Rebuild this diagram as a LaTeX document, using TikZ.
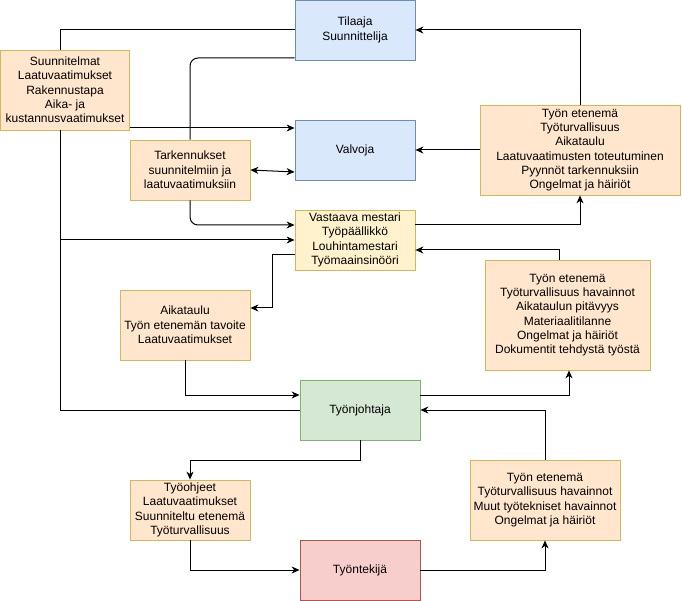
\documentclass[tikz,border=0pt]{standalone}
\usepackage{fontspec}
\setmainfont{Liberation Sans}
\usetikzlibrary{arrows.meta,calc}
\definecolor{bluef}{HTML}{DAE8FC}\definecolor{blued}{HTML}{6C8EBF}
\definecolor{orf}{HTML}{FFE6CC}\definecolor{ord}{HTML}{D6B656}
\definecolor{yef}{HTML}{FFF2CC}\definecolor{yed}{HTML}{D6B656}
\definecolor{grf}{HTML}{D5E8D4}\definecolor{grd}{HTML}{82B366}
\definecolor{ref}{HTML}{F8CECC}\definecolor{red}{HTML}{B85450}
\tikzset{
  box/.style={rectangle, draw, line width=0.8pt, align=center, inner sep=0pt,
    font=\fontsize{12}{14.3}\selectfont},
  bluebox/.style={box, fill=bluef, draw=blued},
  orbox/.style={box, fill=orf, draw=ord},
  yebox/.style={box, fill=yef, draw=yed},
  grbox/.style={box, fill=grf, draw=grd},
  rebox/.style={box, fill=ref, draw=red},
  conn/.style={line width=1pt, black},
  arr/.style={conn, -{Stealth[length=8pt,width=7pt,inset=2.5pt]}},
  darr/.style={conn, {Stealth[length=8pt,width=7pt,inset=2.5pt]}-{Stealth[length=8pt,width=7pt,inset=2.5pt]}}
}
\begin{document}
\begin{tikzpicture}[x=1pt,y=-1pt]
\useasboundingbox (0,0) rectangle (682,601);
\fill[white] (0,0) rectangle (682,601);
\node[bluebox, minimum width=120, minimum height=60] (til) at (355,30) {Tilaaja\\Suunnittelija};
\node[bluebox, minimum width=120, minimum height=60] (val) at (355,150) {Valvoja};
\node[orbox, minimum width=129, minimum height=80] (suu) at (65,90) {Suunnitelmat\\Laatuvaatimukset\\Rakennustapa\\Aika- ja\\kustannusvaatimukset};
\node[orbox, minimum width=120, minimum height=60] (tar) at (190,170) {Tarkennukset\\suunnitelmiin ja\\laatuvaatimuksiin};
\node[yebox, minimum width=120, minimum height=60] (vas) at (355,240) {Vastaava mestari\\Työpäällikkö\\Louhintamestari\\Työmaainsinööri};
\node[orbox, minimum width=200, minimum height=90] (tr) at (580,150) {Työn etenemä\\Työturvallisuus\\Aikataulu\\Laatuvaatimusten toteutuminen\\Pyynnöt tarkennuksiin\\Ongelmat ja häiriöt};
\node[orbox, minimum width=130, minimum height=70] (ait) at (185,325) {Aikataulu\\Työn etenemän tavoite\\Laatuvaatimukset};
\node[orbox, minimum width=165, minimum height=110] (mr) at (567.5,315) {Työn etenemä\\Työturvallisuus havainnot\\Aikataulun pitävyys\\Materiaalitilanne\\Ongelmat ja häiriöt\\Dokumentit tehdystä työstä};
\node[grbox, minimum width=120, minimum height=60] (tjo) at (360,410) {Työnjohtaja};
\node[orbox, minimum width=120, minimum height=60] (tyoh) at (190,510) {Työohjeet\\Laatuvaatimukset\\Suunniteltu etenemä\\Työturvallisuus};
\node[rebox, minimum width=120, minimum height=60] (tyon) at (360,570) {Työntekijä};
\node[orbox, minimum width=150, minimum height=80] (br) at (545,500) {Työn etenemä\\Työturvallisuus havainnot\\Muut työtekniset havainnot\\Ongelmat ja häiriöt};

\coordinate (st) at ($(suu.north)+(-5,0)$);
\coordinate (sb) at ($(suu.south)+(-5,0)$);
\draw[conn] (til.west) -| (st);
\draw[arr] ($(suu.east)+(0,38)$) -- ($(val.west)+(0,-22)$);
\draw[conn, rounded corners=8pt] ($(til.west)+(0,28)$) -| (tar.north);
\draw[arr, rounded corners=8pt] (tar.south) |- ($(vas.west)+(0,-15)$);
\draw[darr] (tar.east) -- ($(val.west)+(0,22)$);
\draw[conn] (sb) |- (tjo.west);
\draw[arr] (sb |- vas.west) -- (vas.west);
\draw[arr] (tr.north) |- (til.east);
\draw[arr] (tr.west) -- (val.east);
\draw[arr] ($(vas.east)+(0,-15)$) -| (tr.south);
\draw[arr] ($(mr.north)+(-8.5,0)$) |- ($(vas.east)+(0,10)$);
\draw[arr] ($(vas.west)+(0,15)$) -- ++(-22,0) |- ($(ait.east)+(0,-17)$);
\draw[arr] (ait.south) |- ($(tjo.west)+(0,-15)$);
\draw[arr] ($(tjo.east)+(0,-15)$) -| ($(mr.south)+(1.5,0)$);
\draw[arr] (br.north) |- (tjo.east);
\draw[arr] (tjo.south) -- ++(0,20) -| (tyoh.north);
\draw[arr] (tyoh.south) |- (tyon.west);
\draw[arr] (tyon.east) -| (br.south);
\end{tikzpicture}
\end{document}
